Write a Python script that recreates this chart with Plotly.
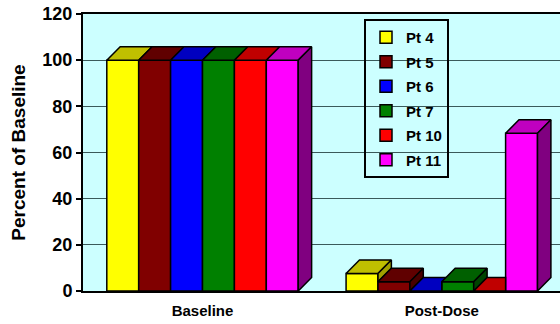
import plotly.graph_objects as go

# ---- data ----
categories = ["Baseline", "Post-Dose"]
patients = ["Pt 4", "Pt 5", "Pt 6", "Pt 7", "Pt 10", "Pt 11"]
pt4 = [100, 7.6]
pt5 = [100, 4.0]
pt6 = [100, 0.0]
pt7 = [100, 4.0]
pt10 = [100, 0.0]
pt11 = [100, 68.3]
series = [pt4, pt5, pt6, pt7, pt10, pt11]
y_ticks = [0, 20, 40, 60, 80, 100, 120]

# ---- styles ----
front_colors = ["#FFFF00", "#800000", "#0000FF", "#008000", "#FF0000", "#FF00FF"]
top_colors = ["#C0C000", "#600000", "#0000C0", "#006000", "#C00000", "#C000C0"]
side_colors = ["#A0A000", "#480000", "#000090", "#004400", "#900000", "#800080"]
FONT = "Liberation Sans, Arial, sans-serif"

n = len(series)
GROUP = 0.8
W = GROUP / n
DX = 0.056   # depth offset in category units
DY = 5.85    # depth offset in value units

fig = go.Figure()

# front faces (real bars)
for k, (name, vals) in enumerate(zip(patients, series)):
    fig.add_trace(go.Bar(
        x=list(range(len(categories))), y=vals, name=name,
        offset=-GROUP / 2 + k * W, width=W,
        marker=dict(color=front_colors[k], line=dict(color="black", width=1.5)),
        legendgroup=name,
        hovertemplate=name + ": %{y}<extra></extra>",
    ))

def poly(xs, ys, color):
    fig.add_trace(go.Scatter(
        x=xs + [xs[0]], y=ys + [ys[0]], mode="lines", fill="toself",
        fillcolor=color, line=dict(color="black", width=1.5),
        showlegend=False, hoverinfo="skip",
    ))

# 3-D top and side faces, computed from the data and clipped by the next bar
for i in range(len(categories)):
    for k in range(n):
        h = series[k][i]
        xL = i - GROUP / 2 + k * W
        xR = xL + W
        h2 = series[k + 1][i] if k < n - 1 else None
        # top face
        if h2 is None or h2 <= h:
            poly([xL, xR, xR + DX, xL + DX], [h, h, h + DY, h + DY], top_colors[k])
        else:
            t = max(0.0, min(1.0, (h + DY - h2) / DY))
            poly([xL, xR, xR, xR + DX * t, xL + DX],
                 [h, h, min(h2, h + DY), h + DY, h + DY], top_colors[k])
        # side face
        low = 0.0 if h2 is None else h2
        if h > low:
            poly([xR, xR, xR + DX, xR + DX], [low, h, h + DY, low + DY], side_colors[k])

fig.update_layout(
    width=560, height=324,
    margin=dict(l=83, r=0, t=14, b=33, autoexpand=False),
    paper_bgcolor="white",
    plot_bgcolor="#CCFFFF",
    barmode="overlay",
    font=dict(family=FONT, color="black"),
    showlegend=True,
    legend=dict(
        x=(364 - 83) / 477, y=(291 - 19) / 277, xanchor="left", yanchor="top",
        bordercolor="black", borderwidth=2, bgcolor="rgba(0,0,0,0)",
        font=dict(family=FONT, size=15, weight="bold", color="black"),
        tracegroupgap=2,
    ),
    xaxis=dict(
        range=[-0.4994, 1.494], automargin=False,
        tickvals=list(range(len(categories))), ticktext=categories,
        showgrid=False, zeroline=False,
        showline=True, linecolor="black", linewidth=2, mirror=True,
        ticks="", ticklabelstandoff=5,
        tickfont=dict(family=FONT, size=15, weight="bold", color="black"),
    ),
    yaxis=dict(
        range=[0, 120], tickvals=y_ticks, automargin=False,
        ticklabeloverflow="allow",
        showgrid=True, gridcolor="#3A5A5A", gridwidth=1,
        zeroline=False,
        showline=True, linecolor="black", linewidth=2,
        ticks="outside", ticklen=5, tickwidth=1.5, tickcolor="black",
        tickfont=dict(family=FONT, size=18, weight="bold", color="black"),
        title=dict(text="Percent of Baseline", standoff=12,
                   font=dict(family=FONT, size=19, weight="bold", color="black")),
    ),
)

# remove the page's default 8px body margin so the figure fills the window
fig.write_html("out.html", config={"displayModeBar": False},
               post_script="document.body.style.margin='0';")
